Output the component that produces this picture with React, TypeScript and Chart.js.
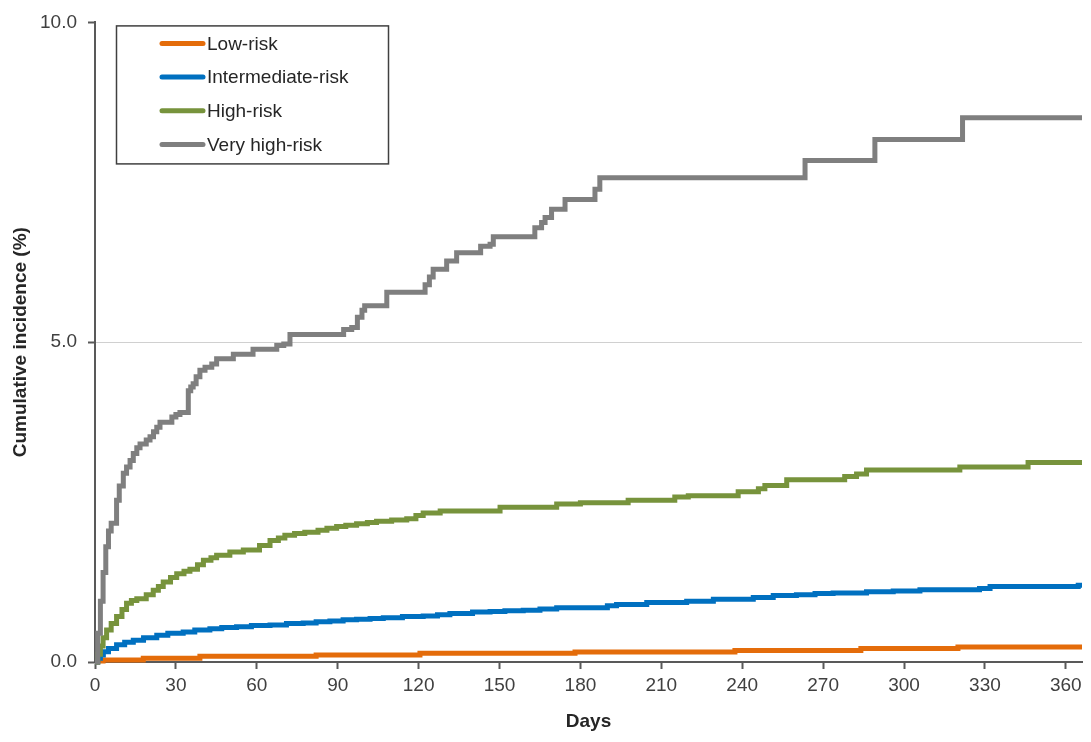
import React, { useEffect, useRef } from "react";
import { Chart, registerables } from "chart.js";

Chart.register(...registerables);

// [day, cumulative incidence %] — value jumps to y at day x
const lowRisk: [number, number][] = [
  [0, 0], [1, 0.015], [3, 0.03], [17.9, 0.06], [38.9, 0.09], [82, 0.11],
  [120.5, 0.135], [178, 0.155], [237.3, 0.18], [284, 0.21], [320, 0.235], [366, 0.235],
];

const intermediateRisk: [number, number][] = [
  [0, 0], [1, 0.06], [2, 0.11], [3.1, 0.16], [5, 0.21], [8, 0.27], [11, 0.31],
  [14.2, 0.34], [18, 0.38], [22.9, 0.42], [27, 0.45], [32.7, 0.47], [37, 0.5],
  [42.6, 0.52], [47, 0.54], [52.5, 0.55], [58, 0.57], [64.9, 0.58], [71, 0.6],
  [77.2, 0.61], [82, 0.63], [87.1, 0.64], [92, 0.66], [97, 0.67], [102, 0.68],
  [106.9, 0.69], [114, 0.71], [121.7, 0.72], [127, 0.74], [131.6, 0.76], [140, 0.78],
  [146.5, 0.79], [152, 0.8], [158.8, 0.81], [165, 0.83], [171.2, 0.85], [190, 0.88],
  [193.4, 0.9], [204.6, 0.93], [219.4, 0.95], [229.3, 0.98], [244.1, 1.01],
  [251.5, 1.04], [260.1, 1.05], [267, 1.07], [273.7, 1.08], [286.1, 1.1],
  [296, 1.11], [305.9, 1.13], [328, 1.15], [331.9, 1.18], [364.6, 1.2], [366, 1.2],
];

const highRisk: [number, number][] = [
  [0, 0], [1, 0.12], [2, 0.25], [3, 0.38], [4.3, 0.5], [6, 0.6], [8, 0.71],
  [10, 0.82], [11.7, 0.92], [13.5, 0.96], [15.5, 0.99], [19, 1.05], [21.6, 1.12],
  [23.5, 1.18], [25.3, 1.25], [28, 1.32], [30.3, 1.38], [33, 1.42], [35.2, 1.45],
  [38, 1.52], [40.2, 1.59], [43, 1.63], [45.1, 1.67], [50, 1.72], [55, 1.75],
  [61, 1.82], [64.9, 1.9], [68, 1.94], [70.4, 1.98], [74, 2.01], [77.8, 2.03],
  [82.7, 2.06], [86, 2.09], [89.6, 2.12], [93, 2.14], [97, 2.16], [101, 2.18],
  [104.4, 2.2], [110, 2.22], [115.6, 2.24], [119, 2.29], [121.7, 2.33], [128, 2.36],
  [150.2, 2.42], [171.2, 2.47], [180, 2.49], [197.7, 2.53], [215, 2.58], [220, 2.6],
  [238.5, 2.66], [246, 2.71], [248.4, 2.76], [256.5, 2.85], [278, 2.9], [282.4, 2.94],
  [286.1, 3.0], [320.7, 3.05], [346, 3.12], [366, 3.12],
];

const veryHighRisk: [number, number][] = [
  [0, 0], [1, 0.45], [2, 0.95], [3, 1.4], [4, 1.8], [5, 2.05], [6, 2.17], [8, 2.53],
  [9, 2.75], [10.5, 2.95], [11.7, 3.05], [13, 3.15], [14.2, 3.26], [15.5, 3.35],
  [16.7, 3.41], [19, 3.47], [20.4, 3.52], [21.7, 3.6], [22.9, 3.67], [24.1, 3.75],
  [28.5, 3.83], [30, 3.87], [31.5, 3.9], [34.6, 4.24], [35.5, 4.3], [36.4, 4.35],
  [37.5, 4.46], [38.9, 4.56], [40.8, 4.61], [43.3, 4.66], [45.1, 4.74], [51.3, 4.81],
  [58.6, 4.89], [67.4, 4.95], [70, 4.97], [72.3, 5.12], [92.2, 5.2], [95.2, 5.23],
  [97.3, 5.39], [99, 5.5], [100, 5.57], [108.2, 5.78], [122.4, 5.9], [124, 6.02],
  [125.4, 6.14], [130.4, 6.27], [134.1, 6.4], [143, 6.5], [146.5, 6.53], [147.7, 6.65],
  [163.1, 6.79], [165.6, 6.87], [166.9, 6.95], [169.3, 7.08], [174.3, 7.23],
  [185.4, 7.39], [187.2, 7.57], [263.3, 7.84], [289.2, 8.17], [321.7, 8.51], [366, 8.51],
];

const seriesLabels = ["Low-risk", "Intermediate-risk", "High-risk", "Very high-risk"];
const seriesColors = ["#E46C0A", "#0070C0", "#77933C", "#7F7F7F"];
const xTickStep = 30;
const yTicks = [0, 5, 10];

const FONT = "'Liberation Sans', Arial, sans-serif";

const legendBoxPlugin = {
  id: "legendBox",
  afterDraw(chart: any) {
    const { ctx, chartArea } = chart;
    const left = chartArea.left + 21;
    const top = chartArea.top + 3;
    const w = 272;
    const h = 138;
    ctx.save();
    ctx.fillStyle = "#ffffff";
    ctx.fillRect(left, top, w, h);
    ctx.strokeStyle = "#404040";
    ctx.lineWidth = 1.5;
    ctx.strokeRect(left + 0.5, top + 0.5, w, h);
    ctx.font = `19px ${FONT}`;
    ctx.textBaseline = "middle";
    ctx.textAlign = "left";
    chart.data.datasets.forEach((ds: any, i: number) => {
      const y = top + 18 + i * 33.7;
      ctx.strokeStyle = ds.borderColor;
      ctx.lineWidth = 5;
      ctx.lineCap = "round";
      ctx.beginPath();
      ctx.moveTo(left + 46, y);
      ctx.lineTo(left + 87, y);
      ctx.stroke();
      ctx.fillStyle = "#262626";
      ctx.fillText(ds.label, left + 91, y + 1);
    });
    ctx.restore();
  },
};

export default function App() {
  const ref = useRef<HTMLCanvasElement | null>(null);

  useEffect(() => {
    document.body.style.margin = "0";
    if (!ref.current) return;
    const all = [lowRisk, intermediateRisk, highRisk, veryHighRisk];
    const chart = new Chart(ref.current, {
      type: "line",
      data: {
        datasets: all.map((pts, i) => ({
          label: seriesLabels[i],
          data: pts.map(([x, y]) => ({ x, y })),
          borderColor: seriesColors[i],
          backgroundColor: seriesColors[i],
          borderWidth: 5,
          pointRadius: 0,
          stepped: "before" as const,
          fill: false,
          clip: false as any,
          order: 3 - i,
        })),
      },
      options: {
        responsive: false,
        animation: false,
        layout: { padding: { top: 21, right: 9, left: 0, bottom: 0 } },
        plugins: {
          legend: { display: false },
          tooltip: { enabled: false },
        },
        scales: {
          x: {
            type: "linear",
            min: 0,
            max: 366,
            afterFit: (s: any) => {
              s.height = 80;
            },
            border: { color: "#595959", width: 2 },
            grid: {
              drawOnChartArea: false,
              drawTicks: true,
              tickLength: 7,
              tickColor: "#595959",
              tickWidth: 2,
            },
            ticks: {
              stepSize: xTickStep,
              includeBounds: false,
              autoSkip: false,
              maxRotation: 0,
              padding: 5,
              color: "#404040",
              font: { family: FONT, size: 19 },
            },
            title: {
              display: true,
              text: "Days",
              color: "#262626",
              font: { family: FONT, size: 19, weight: "bold" },
              padding: { top: 0, bottom: 9 },
            },
          },
          y: {
            type: "linear",
            min: 0,
            max: 10,
            afterFit: (s: any) => {
              s.width = 95;
            },
            afterBuildTicks: (s: any) => {
              s.ticks = yTicks.map((v) => ({ value: v }));
            },
            border: { color: "#595959", width: 2 },
            grid: {
              color: (c: any) => (c.tick && c.tick.value === 5 ? "#D0D0D0" : "rgba(0,0,0,0)"),
              lineWidth: 1,
              drawTicks: true,
              tickLength: 7,
              tickColor: "#595959",
              tickWidth: 2,
            },
            ticks: {
              padding: 11,
              color: "#404040",
              font: { family: FONT, size: 19 },
              callback: (v: any) => Number(v).toFixed(1),
            },
            title: {
              display: true,
              text: "Cumulative incidence (%)",
              color: "#262626",
              font: { family: FONT, size: 19, weight: "bold" },
              padding: { top: 9, bottom: 0 },
            },
          },
        },
      },
      plugins: [legendBoxPlugin],
    });
    return () => chart.destroy();
  }, []);

  return (
    <div style={{ width: 1091, height: 742 }}>
      <canvas ref={ref} width={1091} height={742} />
    </div>
  );
}
